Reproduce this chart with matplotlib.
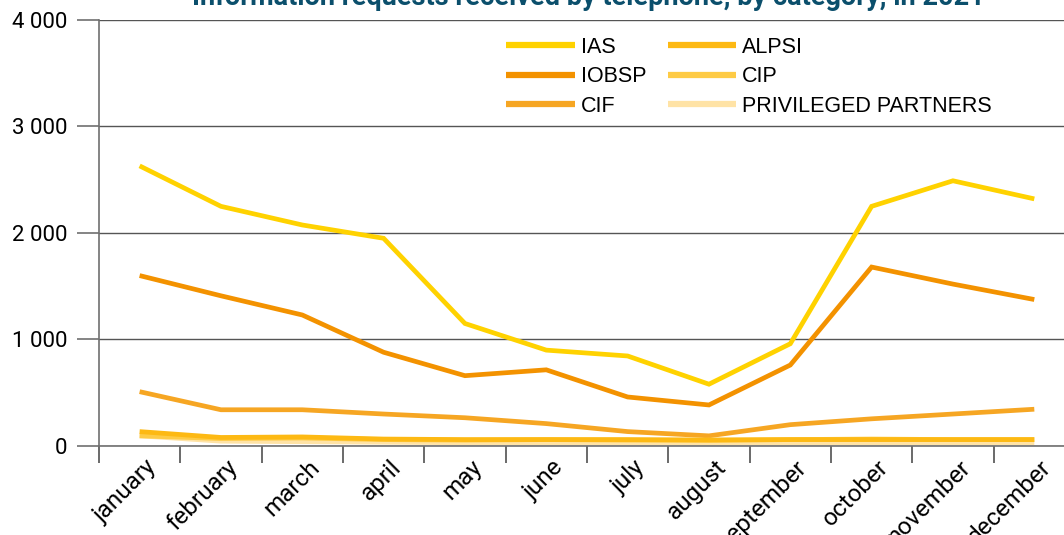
import matplotlib
matplotlib.use("Agg")
import matplotlib.pyplot as plt
from matplotlib.ticker import FixedLocator
from matplotlib.transforms import ScaledTranslation

months = ["january", "february", "march", "april", "may", "june",
          "july", "august", "september", "october", "november", "december"]

ias = [2630, 2250, 2075, 1950, 1150, 900, 845, 580, 960, 2250, 2490, 2320]
iobsp = [1600, 1410, 1230, 880, 660, 715, 460, 385, 760, 1680, 1520, 1375]
cif = [510, 340, 340, 300, 265, 210, 135, 95, 200, 255, 300, 345]
alpsi = [135, 80, 85, 65, 60, 60, 60, 55, 60, 60, 60, 60]
cip = [95, 70, 75, 60, 55, 60, 55, 55, 60, 65, 60, 60]
privileged = [95, 45, 40, 35, 30, 30, 30, 30, 30, 30, 30, 30]

SERIES = [
    ("IAS", ias, "#FFD200", 3),
    ("IOBSP", iobsp, "#F39200", 3),
    ("CIF", cif, "#F6A623", 3),
    ("ALPSI", alpsi, "#FDB913", 5),
    ("CIP", cip, "#FECB45", 4),
    ("PRIVILEGED PARTNERS", privileged, "#FFE3A6", 2),
]

TICK_FONT = "Roboto"
LEGEND_FONT = "Liberation Sans"

fig = plt.figure(figsize=(10.64, 5.35), dpi=100)
ax = fig.add_axes([0.0930, 0.1664, 0.9173, 0.7963])

x = list(range(len(months)))
for name, vals, colour, z in SERIES:
    ax.plot(x, vals, color=colour, linewidth=3.4, label=name, zorder=z,
            solid_capstyle="butt", solid_joinstyle="miter")

ax.set_xlim(-0.5, 11.5)
ax.set_ylim(0, 4000)

# y axis
yticks = [0, 1000, 2000, 3000, 4000]
ax.set_yticks(yticks)
ax.set_yticklabels([f"{v:,}".replace(",", " ") for v in yticks],
                   fontfamily=TICK_FONT, fontsize=16)
ax.tick_params(axis="y", length=16, width=1.2, color="#707070", pad=7)
ax.grid(axis="y", color="#555555", linewidth=1.0, zorder=0)

# x axis: labels at month centres, tick marks on category boundaries
ax.set_xticks(x)
ax.set_xticklabels(months, rotation=45, ha="right", va="top",
                   rotation_mode="anchor", fontfamily=TICK_FONT, fontsize=17.5)
ax.tick_params(axis="x", which="major", length=0, pad=7)
ax.xaxis.set_minor_locator(FixedLocator([i - 0.5 for i in range(13)]))
ax.tick_params(axis="x", which="minor", length=12, width=1.2, color="#505050")

shift = ScaledTranslation(4 / 72, 0, fig.dpi_scale_trans)
for lab in ax.get_xticklabels():
    lab.set_transform(lab.get_transform() + shift)

for side in ("top", "right"):
    ax.spines[side].set_visible(False)
ax.spines["left"].set_color("#707070")
ax.spines["left"].set_linewidth(1.2)
ax.spines["bottom"].set_color("#707070")
ax.spines["bottom"].set_linewidth(1.2)

leg = ax.legend(ncol=2, frameon=False, loc="upper left",
                bbox_to_anchor=(0.3975, 1.006),
                prop={"family": LEGEND_FONT, "size": 15.5},
                handlelength=3.2, handletextpad=0.25, labelspacing=0.4,
                columnspacing=1.0)
for line in leg.get_lines():
    line.set_linewidth(4.5)

fig.text(0.553, 0.991, "Information requests received by telephone, by category, in 2021",
         ha="center", va="baseline", fontsize=19.5, fontweight="bold",
         fontfamily=TICK_FONT, color="#0B4F6C")

fig.savefig("out.png", dpi=100)
